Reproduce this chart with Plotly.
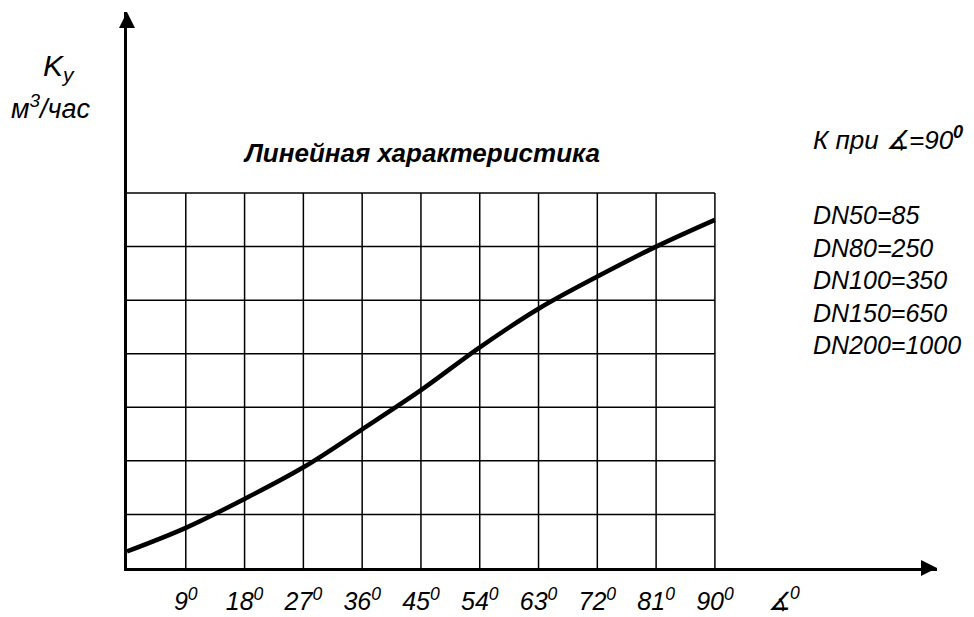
import plotly.graph_objects as go

# ---- data ----
angles = [0, 9, 18, 27, 36, 45, 54, 63, 72, 81, 90]
k_values = [0.31, 0.75, 1.29, 1.88, 2.59, 3.32, 4.12, 4.84, 5.44, 6.0, 6.5]   # in grid divisions
tick_angles = [9, 18, 27, 36, 45, 54, 63, 72, 81, 90]
tick_labels = ["9<sup>0</sup>", "18<sup>0</sup>", "27<sup>0</sup>", "36<sup>0</sup>", "45<sup>0</sup>",
               "54<sup>0</sup>", "63<sup>0</sup>", "72<sup>0</sup>", "81<sup>0</sup>", "90<sup>0</sup>"]
grid_levels = [1, 2, 3, 4, 5, 6, 7]
dn_labels = ["DN50=85", "DN80=250", "DN100=350", "DN150=650", "DN200=1000"]
title_text = "Линейная характеристика"
k_header = "К при ∡=90<b><sup>0</sup></b>"
y_label_1 = "K<sub>у</sub>"
y_label_2 = "м<sup>3</sup>/час"
x_label = "∡<sup>0</sup>"

X_MAX = 124.0
Y_MAX = 10.38
FONT = "Liberation Sans, Arial, sans-serif"

fig = go.Figure()

# grid (only over the 0..90 x 0..7 region)
gx, gy = [], []
x_top = max(tick_angles)
y_top = max(grid_levels)
for a in tick_angles:
    gx += [a, a, None]
    gy += [0, y_top, None]
for lv in grid_levels:
    gx += [0, x_top, None]
    gy += [lv, lv, None]
fig.add_trace(go.Scatter(x=gx, y=gy, mode="lines", line=dict(color="black", width=1.5),
                         hoverinfo="skip", showlegend=False))

# characteristic curve
fig.add_trace(go.Scatter(x=angles, y=k_values, mode="lines",
                         line=dict(color="black", width=4.5, shape="spline", smoothing=1.0),
                         showlegend=False, cliponaxis=False))

# arrow heads at the axis ends
fig.add_trace(go.Scatter(x=[X_MAX, 0], y=[0, Y_MAX], mode="markers",
                         marker=dict(symbol=["arrow-right", "arrow-up"], size=16, color="black",
                                     line=dict(width=0)),
                         cliponaxis=False, hoverinfo="skip", showlegend=False))

fig.update_xaxes(range=[0, X_MAX], showgrid=False, zeroline=False, showline=True,
                 linecolor="black", linewidth=3, ticks="", tickvals=tick_angles,
                 ticktext=tick_labels, ticklabelstandoff=9, automargin=False,
                 tickfont=dict(family=FONT, size=25, color="black", style="italic"))
fig.update_yaxes(range=[0, Y_MAX], showgrid=False, zeroline=False, showline=True,
                 linecolor="black", linewidth=3, ticks="", showticklabels=False,
                 automargin=False)

def ann(text, x, y, size=26, xanchor="center", weight="normal"):
    fig.add_annotation(text=text, x=x, y=y, xref="paper", yref="paper", showarrow=False,
                       xanchor=xanchor, yanchor="middle", align="left",
                       font=dict(family=FONT, size=size, color="black", style="italic",
                                 weight=weight))

ann(y_label_1, -0.084, 0.900, size=30)
ann(y_label_2, -0.094, 0.830, size=27)
ann(title_text, 0.364, 0.746, size=26, weight="bold")
ann(k_header, 0.845, 0.772, size=26, xanchor="left")
ann("<br>".join(dn_labels), 0.845, 0.518, size=25, xanchor="left")
ann(x_label, 0.8106, -0.056, size=25)

# the page body keeps an 8px margin, so the figure is 8px smaller and the margins shifted
fig.update_layout(width=966, height=609, autosize=False,
                  margin=dict(l=119, r=37, t=4, b=49),
                  paper_bgcolor="white", plot_bgcolor="white")

fig.write_html("out.html")
